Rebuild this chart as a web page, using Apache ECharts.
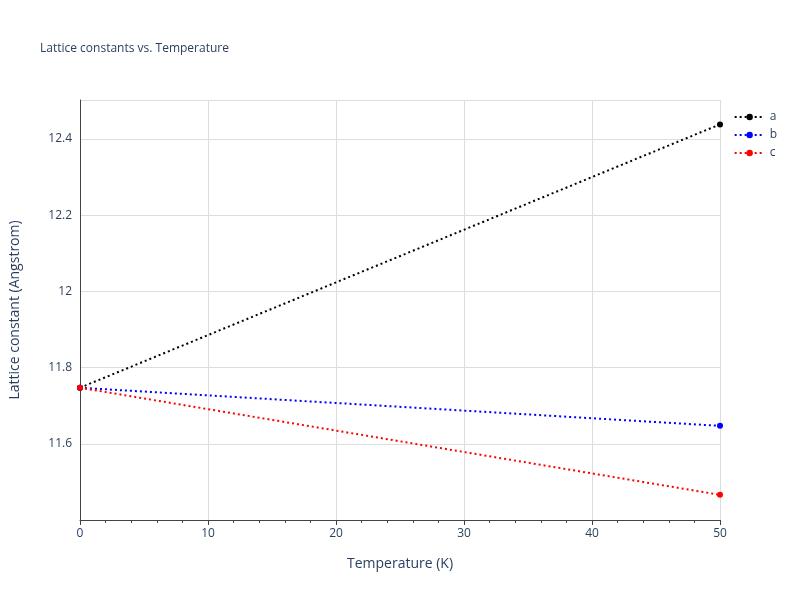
<!DOCTYPE html>
<html><head><meta charset="utf-8">
<script src="https://cdn.jsdelivr.net/npm/echarts@6/dist/echarts.min.js"></script>
<style>html,body{margin:0;padding:0;background:#fff}#c{width:800px;height:600px}</style>
</head><body><div id="c"></div>
<script>
const temps = [0, 50];
const seriesNames = ['a', 'b', 'c'];
const seriesColors = ['#000000', '#0000ff', '#ff0000'];
const aVals = [11.747, 12.438];
const bVals = [11.747, 11.647];
const cVals = [11.747, 11.466];
const allVals = [aVals, bVals, cVals];

const chart = echarts.init(document.getElementById('c'));
const txt = '#2a3f5f';
chart.setOption({
  animation: false,
  title: {text: 'Lattice constants vs. Temperature', left: 35, top: 38,
    textStyle: {fontFamily: 'Open Sans', fontSize: 12, fontWeight: 'normal', color: txt}},
  legend: {right: 18, top: 106, orient: 'vertical', itemGap: 6, itemWidth: 30, itemHeight: 8,
    textStyle: {fontFamily: 'Open Sans', fontSize: 12, color: txt}, data: seriesNames},
  grid: {left: 80, right: 80, top: 100, bottom: 80, containLabel: false},
  xAxis: {type: 'value', min: 0, max: 50, interval: 10,
    name: 'Temperature (K)', nameLocation: 'middle', nameGap: 37,
    nameTextStyle: {fontFamily: 'Open Sans', fontSize: 14, color: txt},
    axisLine: {show: true, onZero: false, lineStyle: {color: '#444'}},
    axisTick: {show: true, length: 5, lineStyle: {color: '#444'}},
    minorTick: {show: true, splitNumber: 5, length: 3, lineStyle: {color: '#444'}},
    axisLabel: {fontFamily: 'Open Sans', fontSize: 12, color: txt},
    splitLine: {show: true, lineStyle: {color: '#dddddd'}}},
  yAxis: {type: 'value', min: 11.4, max: 12.502, interval: 0.2,
    name: 'Lattice constant (Angstrom)', nameLocation: 'middle', nameGap: 58,
    nameTextStyle: {fontFamily: 'Open Sans', fontSize: 14, color: txt},
    axisLine: {show: true, onZero: false, lineStyle: {color: '#444'}},
    axisTick: {show: false},
    axisLabel: {fontFamily: 'Open Sans', fontSize: 12, color: txt, showMinLabel: false, showMaxLabel: false,
      formatter: v => String(parseFloat(v.toFixed(2)))},
    splitLine: {show: true, lineStyle: {color: '#dddddd'}}},
  series: seriesNames.map((n, i) => ({
    name: n, type: 'line', symbol: 'circle', symbolSize: 6,
    itemStyle: {color: seriesColors[i]},
    lineStyle: {color: seriesColors[i], width: 2, type: [2, 3]},
    data: temps.map((t, j) => [t, allVals[i][j]])
  }))
});
</script></body></html>
